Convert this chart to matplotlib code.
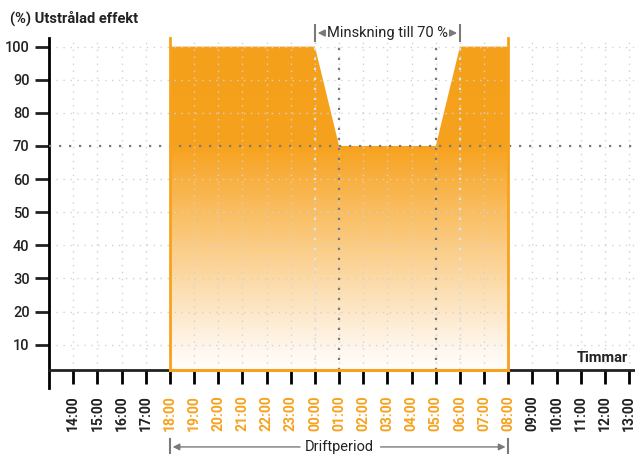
import numpy as np
import matplotlib.pyplot as plt
from matplotlib.patches import Polygon
from matplotlib.colors import LinearSegmentedColormap

plt.rcParams['font.family'] = ['Roboto', 'DejaVu Sans']

# data
hour_labels = ['14:00', '15:00', '16:00', '17:00', '18:00', '19:00', '20:00', '21:00',
               '22:00', '23:00', '00:00', '01:00', '02:00', '03:00', '04:00', '05:00',
               '06:00', '07:00', '08:00', '09:00', '10:00', '11:00', '12:00', '13:00']
profile_hours = ['18:00', '00:00', '01:00', '05:00', '06:00', '08:00']
profile_power = [100, 100, 70, 70, 100, 100]
reduced_level = 70
y_ticks = [10, 20, 30, 40, 50, 60, 70, 80, 90, 100]

ORANGE = '#F7A21E'
GREY = '#7a7a7a'
LIGHT = '#d2d2d2'

# x position of an hour label (13:00 at the y axis = 0)
pos = {h: i + 1 for i, h in enumerate(hour_labels)}
xs = [pos[h] for h in profile_hours]
x_start, x_end = xs[0], xs[-1]
base = 2.2
top = 102.6

fig = plt.figure(figsize=(6.35, 4.54), dpi=100)
ax = fig.add_axes([49 / 635, 1 - 388 / 454, (635 - 49) / 635, 350 / 454])
ax.set_xlim(0, 24.24)
ax.set_ylim(-3.1, top)

# gradient fill clipped to the profile
verts = [(x_start, base)] + list(zip(xs, profile_power)) + [(x_end, base)]
poly = Polygon(verts, closed=True, facecolor='none', edgecolor='none')
ax.add_patch(poly)
cmap = LinearSegmentedColormap.from_list('o', [(0, '#ffffff'), (0.08, '#FFF8F0'),
                                              (0.7, ORANGE), (1, '#F5A01A')])
grad = np.linspace(0, 1, 256).reshape(-1, 1)
im = ax.imshow(grad, extent=(x_start, x_end, 0, 100), origin='lower', cmap=cmap,
               aspect='auto', zorder=1)
im.set_clip_path(poly)

# grid
for h in range(1, 25):
    ax.plot([h, h], [base, top], color=LIGHT, lw=1, ls=(0, (1, 4)), zorder=2)
for v in y_ticks:
    if v != reduced_level:
        ax.plot([0, 24.24], [v, v], color=LIGHT, lw=1, ls=(0, (1, 4)), zorder=2)

# reference lines
ax.plot([0, 24.24], [reduced_level, reduced_level], color=GREY, lw=1.6,
        ls=(0, (1, 3.5)), zorder=3)
for h in ['01:00', '05:00']:
    ax.plot([pos[h], pos[h]], [base, 100], color=GREY, lw=1.6, ls=(0, (1, 3.5)), zorder=3)
for h in ['00:00', '06:00']:
    ax.plot([pos[h], pos[h]], [base, 100], color='#e2e2e2', lw=1.6, ls=(0, (1, 3.5)),
            zorder=3)

# orange borders of the period
for x in (x_start, x_end):
    ax.plot([x, x], [base, top], color=ORANGE, lw=2, zorder=4, clip_on=False)

# axes
for s in ['top', 'right']:
    ax.spines[s].set_visible(False)
ax.spines['left'].set_linewidth(2)
ax.spines['bottom'].set_position(('data', base))
ax.spines['bottom'].set_linewidth(2)
ax.spines['bottom'].set_color('#222222')
ax.plot([x_start, x_end], [base, base], color=ORANGE, lw=2.2, zorder=5, clip_on=False)

ax.set_yticks(y_ticks)
ax.set_yticklabels([str(v) for v in y_ticks], fontsize=10.5, fontweight='medium',
                   color='#222222')
ax.tick_params(axis='y', length=10, width=2, color='#222222', pad=4)

ax.set_xticks(range(1, 25))
ax.set_xticklabels(hour_labels, rotation=90, fontsize=10, fontweight='bold')
ax.tick_params(axis='x', length=10, width=2, pad=8)
for h, tick in zip(hour_labels, ax.xaxis.get_major_ticks()):
    inside = x_start <= pos[h] <= x_end
    c = ORANGE if inside else '#222222'
    tick.tick1line.set_color(c)
    tick.label1.set_color(c)

# texts
fig.text(10 / 635, 1 - 18 / 454, '(%) Utstrålad effekt', fontsize=10.5,
         fontweight='bold', color='#222222', va='center', ha='left')
ax.text(23.95, 6, 'Timmar', fontsize=10.5, fontweight='bold', color='#222222',
        ha='right', va='center')

# reduction annotation
xa, xb = pos['00:00'], pos['06:00']
ya = 104.1
ax.text((xa + xb) / 2, ya, 'Minskning till 70 %', fontsize=10.5, color='#222222',
        ha='center', va='center', clip_on=False)
for x in (xa, xb):
    ax.plot([x, x], [ya - 2.5, ya + 2.5], color=GREY, lw=1.5, clip_on=False)
ax.annotate('', xy=(xa, ya), xytext=(xa + 0.45, ya), annotation_clip=False,
            arrowprops=dict(arrowstyle='-|>', color=GREY, lw=1.2, mutation_scale=10))
ax.annotate('', xy=(xb, ya), xytext=(xb - 0.45, ya), annotation_clip=False,
            arrowprops=dict(arrowstyle='-|>', color=GREY, lw=1.2, mutation_scale=10))

# operating period annotation
yd = -20.9
xm = (x_start + x_end) / 2
ax.text(xm, yd, 'Driftperiod', fontsize=10.5, color='#222222', ha='center',
        va='center', clip_on=False)
for x in (x_start, x_end):
    ax.plot([x, x], [yd - 2.5, yd + 2.5], color=GREY, lw=1.5, clip_on=False)
ax.annotate('', xy=(x_start, yd), xytext=(xm - 1.5, yd), annotation_clip=False,
            arrowprops=dict(arrowstyle='-|>', color=GREY, lw=1, mutation_scale=10))
ax.annotate('', xy=(x_end, yd), xytext=(xm + 1.6, yd), annotation_clip=False,
            arrowprops=dict(arrowstyle='-|>', color=GREY, lw=1, mutation_scale=10))

fig.savefig('out.png', dpi=100)
